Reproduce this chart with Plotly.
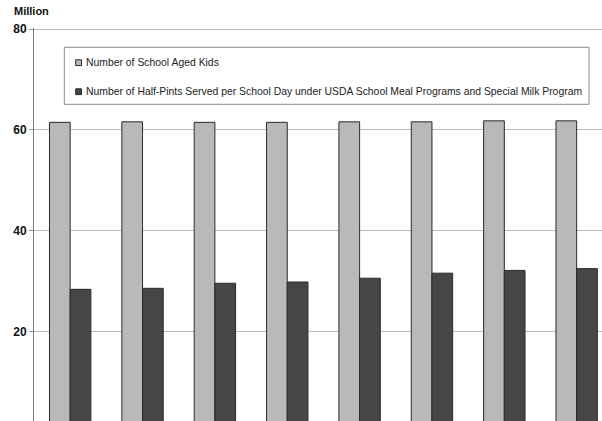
import plotly.graph_objects as go

# School years shown along the x axis (labels fall below the visible area)
years = ["2000", "2001", "2002", "2003", "2004", "2005", "2006", "2007"]

# Millions
school_aged_kids = [61.5, 61.6, 61.5, 61.5, 61.6, 61.6, 61.8, 61.8]
half_pints_per_day = [28.4, 28.6, 29.6, 29.85, 30.6, 31.6, 32.15, 32.5]

series_names = [
    "Number of School Aged Kids",
    "Number of Half-Pints Served per School Day under USDA School Meal Programs and Special Milk Program",
]
series_colors = ["#b9b9b9", "#464646"]

y_ticks = [20, 40, 60, 80]

W, H = 602, 421
M_L, M_R, M_T, M_B = 34, 0, 28, 0
PW, PH = W - M_L - M_R, H - M_T - M_B


def px_x(x):
    return (x - M_L) / PW


def px_y(y):
    return (H - M_B - y) / PH


fig = go.Figure()
for vals, name, color in zip([school_aged_kids, half_pints_per_day], series_names, series_colors):
    fig.add_trace(go.Bar(
        x=years, y=vals, name=name,
        marker=dict(color=color, line=dict(color="#2a2a2a", width=1)),
        showlegend=False,
    ))

font_family = "Liberation Sans, Arial, sans-serif"

fig.update_layout(
    width=W, height=H,
    margin=dict(l=M_L, r=M_R, t=M_T, b=M_B),
    paper_bgcolor="white", plot_bgcolor="white",
    barmode="group", bargap=0.428, bargroupgap=0,
    font=dict(family=font_family, color="#222222"),
    xaxis=dict(
        type="category", range=[-0.5, 7.35],
        showticklabels=False, showgrid=False, zeroline=False,
        showline=False, ticks="",
    ),
    yaxis=dict(
        range=[2.3, 80.2], tickvals=y_ticks,
        showgrid=True, gridcolor="#bcbcbc", gridwidth=1,
        zeroline=False,
        showline=True, linecolor="#7a7a7a", linewidth=1,
        ticks="outside", ticklen=4, tickcolor="#9a9a9a",
        tickfont=dict(family=font_family, size=12, color="#111111", weight="bold"),
    ),
)

# Legend panel
shapes = [dict(
    type="rect", xref="paper", yref="paper",
    x0=px_x(64.3), x1=px_x(589), y0=px_y(104.3), y1=px_y(47.3),
    line=dict(color="#8a8a8a", width=1), fillcolor="white", layer="above",
)]
annotations = []
for row_y, name, color in zip([62.7, 91.7], series_names, series_colors):
    shapes.append(dict(
        type="rect", xref="paper", yref="paper",
        x0=px_x(75.7), x1=px_x(81.5), y0=px_y(row_y + 2.9), y1=px_y(row_y - 2.9),
        line=dict(color="#2a2a2a", width=1), fillcolor=color, layer="above",
    ))
    annotations.append(dict(
        xref="paper", yref="paper", x=px_x(83.5), y=px_y(row_y),
        xanchor="left", yanchor="middle", showarrow=False,
        text=name, font=dict(family=font_family, size=10.4, color="#222222"),
    ))

annotations.append(dict(
    xref="paper", yref="paper", x=px_x(11.5), y=px_y(11),
    xanchor="left", yanchor="middle", showarrow=False,
    text="<b>Million</b>", font=dict(family=font_family, size=11, color="#111111"),
))

fig.update_layout(shapes=shapes, annotations=annotations)

fig.write_html("out.html")
